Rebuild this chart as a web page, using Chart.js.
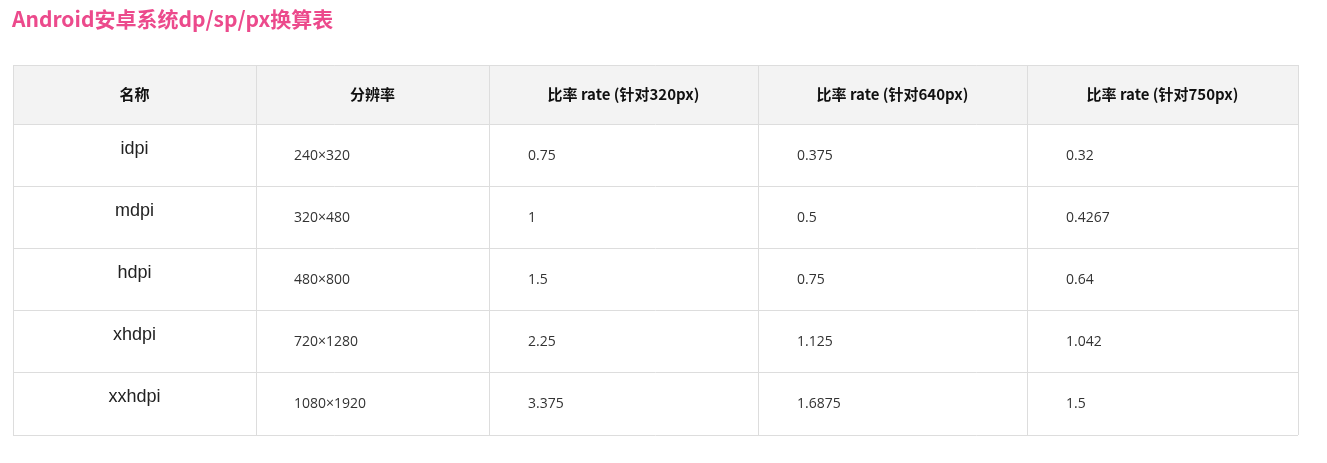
<!DOCTYPE html>
<html><head><meta charset="utf-8">
<script src="https://cdn.jsdelivr.net/npm/chart.js@4"></script>
<style>html,body{margin:0;padding:0;background:#fff}#c{display:block}</style>
</head><body>
<div style="width:1327px;height:463px"><canvas id="c"></canvas></div>
<script>
const title = "Android安卓系统dp/sp/px换算表";
const headers = ["名称","分辨率","比率 rate (针对320px)","比率 rate (针对640px)","比率 rate (针对750px)"];
const names = ["idpi","mdpi","hdpi","xhdpi","xxhdpi"];
const resolutions = ["240×320","320×480","480×800","720×1280","1080×1920"];
const rate320 = ["0.75","1","1.5","2.25","3.375"];
const rate640 = ["0.375","0.5","0.75","1.125","1.6875"];
const rate750 = ["0.32","0.4267","0.64","1.042","1.5"];
const colWeights = [243,233,269,269,271];
const rowWeights = [59,62,62,62,62,63];

const colEdges=[0]; colWeights.forEach(w=>colEdges.push(colEdges[colEdges.length-1]+w));
const rowEdges=[0]; rowWeights.forEach(w=>rowEdges.push(rowEdges[rowEdges.length-1]+w));
const FONT='"Noto Sans CJK SC","Open Sans",sans-serif';

const tablePlugin={id:'table',afterDraw(chart){
  const ctx=chart.ctx,x=chart.scales.x,y=chart.scales.y;
  const X=v=>x.getPixelForValue(v),Y=v=>y.getPixelForValue(v);
  ctx.save();
  ctx.fillStyle='#ec4a8c';ctx.font='bold 21px '+FONT;ctx.textBaseline='middle';ctx.textAlign='left';
  ctx.fillText(title,12,19);
  ctx.fillStyle='#f3f3f3';
  ctx.fillRect(X(0),Y(0),X(colEdges[5])-X(0),Y(rowEdges[1])-Y(0));
  ctx.strokeStyle='#dddddd';ctx.lineWidth=1;
  rowEdges.forEach(r=>{const p=Math.round(Y(r))+0.5;ctx.beginPath();ctx.moveTo(X(0),p);ctx.lineTo(X(colEdges[5]),p);ctx.stroke();});
  colEdges.forEach(c=>{const p=Math.round(X(c))+0.5;ctx.beginPath();ctx.moveTo(p,Y(0));ctx.lineTo(p,Y(rowEdges[6]));ctx.stroke();});
  ctx.fillStyle='#111';ctx.font='bold 15px '+FONT;ctx.textAlign='center';
  headers.forEach((h,i)=>ctx.fillText(h,(X(colEdges[i])+X(colEdges[i+1]))/2,(Y(rowEdges[0])+Y(rowEdges[1]))/2));
  const cols=[resolutions,rate320,rate640,rate750];
  names.forEach((n,r)=>{
    const top=Y(rowEdges[r+1]),bot=Y(rowEdges[r+2]),mid=(top+bot)/2;
    ctx.fillStyle='#222';ctx.font='18px "Liberation Sans",Arial,sans-serif';ctx.textAlign='center';
    ctx.fillText(n,(X(colEdges[0])+X(colEdges[1]))/2,mid-6);
    ctx.fillStyle='#333';ctx.font='14px "Open Sans",sans-serif';ctx.textAlign='left';
    cols.forEach((arr,c)=>ctx.fillText(arr[r],X(colEdges[c+1])+(c===0?38:39),mid+1));
  });
  ctx.restore();
}};
new Chart(document.getElementById('c'),{
  type:'scatter',
  data:{datasets:[{data:[]}]},
  options:{responsive:true,maintainAspectRatio:false,animation:false,
    layout:{padding:{left:13,right:29,top:65,bottom:28}},
    plugins:{legend:{display:false},tooltip:{enabled:false}},
    scales:{x:{type:'linear',min:0,max:colEdges[5],display:false},
            y:{type:'linear',min:0,max:rowEdges[6],reverse:true,display:false}}},
  plugins:[tablePlugin]
});
</script>
</body></html>
